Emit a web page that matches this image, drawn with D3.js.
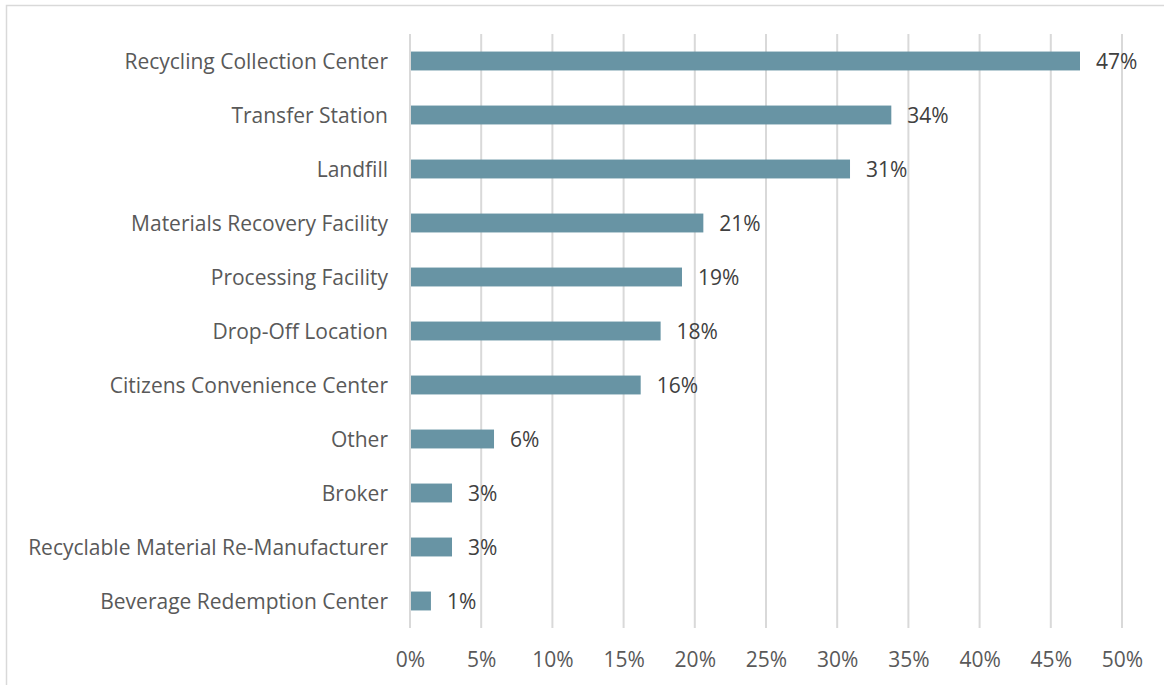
<!DOCTYPE html>
<html>
<head>
<meta charset="utf-8">
<script src="https://cdn.jsdelivr.net/npm/d3@7"></script>
<style>
  html, body { margin: 0; padding: 0; background: #fff; }
  svg { display: block; }
</style>
</head>
<body>
<div id="chart"></div>
<script>
// facility types, top to bottom
var categories = [
    'Recycling Collection Center',
    'Transfer Station',
    'Landfill',
    'Materials Recovery Facility',
    'Processing Facility',
    'Drop-Off Location',
    'Citizens Convenience Center',
    'Other',
    'Broker',
    'Recyclable Material Re-Manufacturer',
    'Beverage Redemption Center'
];

// share of respondents (fraction)
var shares = [0.4705, 0.338, 0.309, 0.206, 0.191, 0.176, 0.162, 0.059, 0.0295, 0.0295, 0.0147];

var xTicks = [0, 0.05, 0.10, 0.15, 0.20, 0.25, 0.30, 0.35, 0.40, 0.45, 0.50];

var W = 1164, H = 685;
var margin = {top: 34, left: 410, right: 42, bottom: 57};
var FONT = '"Open Sans", sans-serif';
var FS = 21;
var TEXT = '#595959';

var rows = categories.map(function (c, i) { return {name: c, value: shares[i]}; });

var svg = d3.select('#chart').append('svg')
    .attr('width', W)
    .attr('height', H);

/* outer chart frame */
svg.append('rect')
    .attr('x', 6.5).attr('y', 5.5)
    .attr('width', W + 20).attr('height', H + 20)
    .attr('fill', 'none')
    .attr('stroke', '#d9d9d9')
    .attr('stroke-width', 1.5);

var x = d3.scaleLinear()
    .domain([0, 0.5])
    .range([margin.left, W - margin.right]);

var y = d3.scaleBand()
    .domain(categories)
    .range([margin.top, H - margin.bottom])
    .paddingInner(0.65)
    .paddingOuter(0.325);

/* vertical gridlines */
svg.append('g').selectAll('line')
    .data(xTicks)
    .enter().append('line')
    .attr('x1', function (d) { return x(d); })
    .attr('x2', function (d) { return x(d); })
    .attr('y1', margin.top)
    .attr('y2', H - margin.bottom)
    .attr('stroke', '#d9d9d9')
    .attr('stroke-width', 2);

/* x axis labels */
var xAxis = d3.axisBottom(x)
    .tickValues(xTicks)
    .tickFormat(d3.format('.0%'))
    .tickSize(0)
    .tickPadding(0);

var gx = svg.append('g')
    .attr('transform', 'translate(0,' + (H - margin.bottom + 24) + ')')
    .call(xAxis);
gx.select('.domain').remove();
gx.selectAll('text')
    .attr('font-family', FONT)
    .attr('font-size', FS)
    .attr('fill', TEXT);

/* category labels */
var yAxis = d3.axisLeft(y).tickSize(0).tickPadding(22);
var gy = svg.append('g')
    .attr('transform', 'translate(' + margin.left + ',0)')
    .call(yAxis);
gy.select('.domain').remove();
gy.selectAll('text')
    .attr('font-family', FONT)
    .attr('font-size', FS)
    .attr('dy', '0.4em')
    .attr('fill', TEXT);

/* bars */
svg.append('g').selectAll('rect')
    .data(rows)
    .enter().append('rect')
    .attr('x', x(0) + 1)
    .attr('y', function (d) { return y(d.name); })
    .attr('width', function (d) { return x(d.value) - x(0) - 1; })
    .attr('height', y.bandwidth())
    .attr('fill', '#6894a4');

/* value labels */
svg.append('g').selectAll('text')
    .data(rows)
    .enter().append('text')
    .attr('x', function (d) { return x(d.value) + 16; })
    .attr('y', function (d) { return y(d.name) + y.bandwidth() / 2; })
    .attr('dy', '0.4em')
    .attr('font-family', FONT)
    .attr('font-size', FS)
    .attr('fill', '#404040')
    .text(function (d) { return d3.format('.0%')(d.value); });
</script>
</body>
</html>
